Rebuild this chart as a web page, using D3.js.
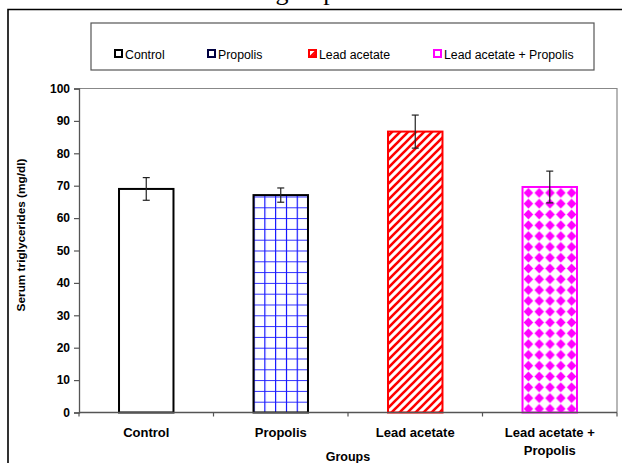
<!DOCTYPE html>
<html><head><meta charset="utf-8">
<script src="https://cdn.jsdelivr.net/npm/d3@7"></script>
<style>
html,body{margin:0;padding:0;background:#fff;}
svg{display:block;}
text{font-family:Arial,"Liberation Sans",sans-serif;}
</style></head>
<body>
<svg id="chart" width="622" height="463"></svg>
<script>
const categories = ["Control", "Propolis", "Lead acetate", "Lead acetate + Propolis"];
const catLabels = [["Control"], ["Propolis"], ["Lead acetate"], ["Lead acetate +", "Propolis"]];
const means = [69.0, 67.1, 86.7, 69.6];
const errors = [3.5, 2.2, 5.1, 4.9];
const yTicks = [0, 10, 20, 30, 40, 50, 60, 70, 80, 90, 100];
const legendLabels = ["Control", "Propolis", "Lead acetate", "Lead acetate + Propolis"];
const strokeColors = ["#000000", "#000000", "#ff0000", "#ff00ff"];
const fills = ["#ffffff", "url(#pGrid)", "url(#pStripe)", "url(#pDiamond)"];
const yTitle = "Serum triglycerides (mg/dl)";
const xTitle = "Groups";
const topText = "groups";

const svg = d3.select("#chart");
const defs = svg.append("defs");

const x = d3.scaleBand().domain(categories).range([79, 617]).paddingInner(0.595).paddingOuter(0.2975);
const y = d3.scaleLinear().domain([0, 100]).range([412.5, 88.5]);

// patterns
const g1 = defs.append("pattern").attr("id", "pGrid").attr("patternUnits", "userSpaceOnUse")
  .attr("width", 10.8).attr("height", 10.8).attr("x", x("Propolis")).attr("y", y(0));
g1.append("rect").attr("width", 10.8).attr("height", 10.8).attr("fill", "#fff");
g1.append("line").attr("x1", 0).attr("x2", 0).attr("y1", 0).attr("y2", 10.8).attr("stroke", "#0000ff").attr("stroke-width", 2.2);
g1.append("line").attr("x1", 0).attr("x2", 10.8).attr("y1", 0).attr("y2", 0).attr("stroke", "#1a1aff").attr("stroke-width", 1.8);

const g2 = defs.append("pattern").attr("id", "pStripe").attr("patternUnits", "userSpaceOnUse")
  .attr("width", 8).attr("height", 8).attr("x", x("Lead acetate")).attr("y", 0);
g2.append("rect").attr("width", 8).attr("height", 8).attr("fill", "#fff");
g2.append("path").attr("d", "M-2,2 L2,-2 M0,8 L8,0 M6,10 L10,6").attr("stroke", "#ff0000").attr("stroke-width", 2.6);

const g3 = defs.append("pattern").attr("id", "pDiamond").attr("patternUnits", "userSpaceOnUse")
  .attr("width", 10.8).attr("height", 10.8).attr("x", x("Lead acetate + Propolis") + 0.5).attr("y", y(means[3]) + 0.5);
g3.append("rect").attr("width", 10.8).attr("height", 10.8).attr("fill", "#fff");
g3.append("path").attr("d", "M5.4,0.6 L10.2,5.4 L5.4,10.2 L0.6,5.4 Z").attr("fill", "#ff00ff");

// top clipped title (cut off in the reference too)
svg.append("text").attr("x", 311).attr("y", 0).attr("text-anchor", "middle")
  .style("font-family", "'Liberation Serif','Times New Roman',serif").style("font-size", "26px").text(topText);

// outer frame
svg.append("path").attr("d", "M8,470 L8,9.5 L630,9.5").attr("fill", "none").attr("stroke", "#000").attr("stroke-width", 1.6);

// legend
const lg = svg.append("g");
lg.append("rect").attr("x", 91).attr("y", 23).attr("width", 503).attr("height", 47)
  .attr("fill", "#fff").attr("stroke", "#555").attr("stroke-width", 1.2);
const legX = [115, 208, 309, 434];
legendLabels.forEach((t, i) => {
  lg.append("rect").attr("x", legX[i]).attr("y", 50).attr("width", 7).attr("height", 7)
    .attr("fill", "#fff")
    .attr("stroke", i === 1 ? "#000040" : strokeColors[i]).attr("stroke-width", 2);
  if (i === 2) {
    lg.append("path").attr("d", `M${legX[i]+1},${57} L${legX[i]+7},${51}`).attr("stroke", "#ff0000").attr("stroke-width", 2);
    lg.append("path").attr("d", `M${legX[i]+3.5},${57} L${legX[i]+7},${53.5}`).attr("stroke", "#ff0000").attr("stroke-width", 2);
  }
  lg.append("text").attr("x", legX[i] + 10).attr("y", 58.5).style("font-size", "12.3px").attr("fill", "#000").text(t);
});

// plot area border (top & right)
svg.append("path").attr("d", `M79,${y(100)} L617,${y(100)} L617,${y(0)}`).attr("fill", "none").attr("stroke", "#888").attr("stroke-width", 1.2);

// bars
svg.selectAll("rect.bar").data(categories).join("rect").attr("class", "bar")
  .attr("x", d => x(d)).attr("width", x.bandwidth())
  .attr("y", (d, i) => y(means[i])).attr("height", (d, i) => y(0) - y(means[i]))
  .attr("fill", (d, i) => fills[i]).attr("stroke", (d, i) => strokeColors[i]).attr("stroke-width", 2);

// error bars
categories.forEach((c, i) => {
  const cx = x(c) + x.bandwidth() / 2;
  const eg = svg.append("g").attr("stroke", "#222").attr("stroke-width", 1.2);
  eg.append("line").attr("x1", cx).attr("x2", cx).attr("y1", y(means[i] + errors[i])).attr("y2", y(means[i] - errors[i]));
  eg.append("line").attr("x1", cx - 3.5).attr("x2", cx + 3.5).attr("y1", y(means[i] + errors[i])).attr("y2", y(means[i] + errors[i]));
  eg.append("line").attr("x1", cx - 3.5).attr("x2", cx + 3.5).attr("y1", y(means[i] - errors[i])).attr("y2", y(means[i] - errors[i]));
});

// y axis
const yAxis = svg.append("g").attr("transform", "translate(79,0)")
  .call(d3.axisLeft(y).tickValues(yTicks).tickSize(5).tickPadding(4));
yAxis.select(".domain").attr("stroke", "#555").attr("stroke-width", 1.3);
yAxis.selectAll(".tick line").attr("stroke", "#555").attr("stroke-width", 1.2);
yAxis.selectAll(".tick text").style("font-size", "12px").style("font-weight", "bold").attr("fill", "#000")
  .style("font-family", "Arial,'Liberation Sans',sans-serif");

// x axis
const x0 = x.range()[0];
svg.append("line").attr("x1", x.range()[0]).attr("x2", x.range()[1]).attr("y1", y(0)).attr("y2", y(0))
  .attr("stroke", "#555").attr("stroke-width", 1.3);
d3.range(categories.length + 1).forEach(i => {
  const tx = x0 + i * x.step();
  svg.append("line").attr("x1", tx).attr("x2", tx).attr("y1", y(0)).attr("y2", y(0) + 4)
    .attr("stroke", "#555").attr("stroke-width", 1.2);
});
categories.forEach((c, i) => {
  const cx = x(c) + x.bandwidth() / 2;
  const t = svg.append("text").attr("x", cx).attr("y", 437).attr("text-anchor", "middle")
    .style("font-size", "13px").style("font-weight", "bold");
  catLabels[i].forEach((l, j) => t.append("tspan").attr("x", cx).attr("dy", j === 0 ? 0 : 17.5).text(l));
});

// axis titles
svg.append("text").attr("x", (x.range()[0] + x.range()[1]) / 2).attr("y", 461).attr("text-anchor", "middle")
  .style("font-size", "12.5px").style("font-weight", "bold").text(xTitle);
svg.append("text").attr("transform", "translate(25,235) rotate(-90)").attr("text-anchor", "middle")
  .style("font-size", "11.8px").style("font-weight", "bold").text(yTitle);
</script>
</body></html>
